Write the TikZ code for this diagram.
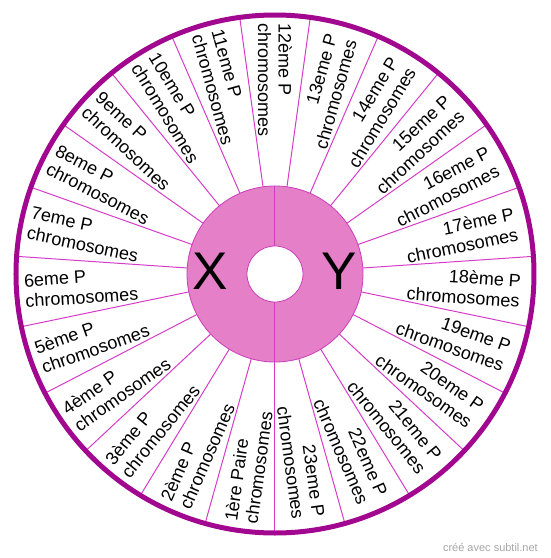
\documentclass[tikz,border=0pt]{standalone}
\usepackage{fontspec}
\setmainfont{Liberation Sans}
\usetikzlibrary{positioning}
\definecolor{rimc}{HTML}{A2078F}
\definecolor{rayc}{HTML}{D63CC8}
\definecolor{discc}{HTML}{E47FC8}
\definecolor{edgec}{HTML}{CC3DBA}

\begin{document}
\begin{tikzpicture}[
        x=1pt, y=1pt,
        ray/.style={rayc, line width=1pt},
        hub/.style={circle, draw=edgec, inner sep=0pt, line width=0.8pt},
        lab/.style={font=\fontsize{18}{20.5}\selectfont, inner sep=0pt},
        big/.style={font=\fontsize{53}{60}\selectfont, inner sep=0pt},
        rim/.style={rimc, line width=5pt}
    ]
        \useasboundingbox (-275,-284) rectangle (275,274);
        \foreach \j in {0,...,22} \draw[ray] ({97.826+\j*360/23}:88) -- ({97.826+\j*360/23}:259);
        \node[hub, fill=discc, minimum size=176pt] (disc) at (0,0) {};
        \node[hub, fill=white, minimum size=56pt] (hole) at (0,0) {};
        \draw[edgec, line width=1pt] (hole.north) -- (disc.north);
        \draw[edgec, line width=1pt] (hole.south) -- (disc.south);
        \node[big] (chrx) at (-65,3) {X};
        \node[big] (chry) at (64,3) {Y};
        \draw[rim] (0,0) circle (259);
        \foreach \k/\t in {1/1ère Paire, 2/2ème P, 3/3ème P, 4/4ème P, 5/5ème P, 6/6eme P,
                7/7eme P, 8/8eme P, 9/9eme P, 10/10eme P, 11/11eme P, 12/12ème P} {
            \pgfmathsetmacro\a{90+(12-\k)*360/23}
            \node[lab, anchor=west, align=left, rotate=\a+180] (p\k) at (\a:251) {\t\\chromosomes};
        }
        \foreach \k/\t in {13/13eme P, 14/14eme P, 15/15eme P, 16/16eme P, 17/17ème P, 18/18ème P,
                19/19eme P, 20/20eme P, 21/21eme P, 22/22eme P, 23/23eme P} {
            \pgfmathsetmacro\a{90-(\k-12)*360/23}
            \node[lab, anchor=east, align=right, rotate=\a] (p\k) at (\a:246) {\t\\chromosomes};
        }
        \node[font=\fontsize{11}{13}\selectfont, text=black!35, anchor=base east, inner sep=0pt] (credit) at (263,-277) {créé avec subtil.net};
\end{tikzpicture}
\end{document}
